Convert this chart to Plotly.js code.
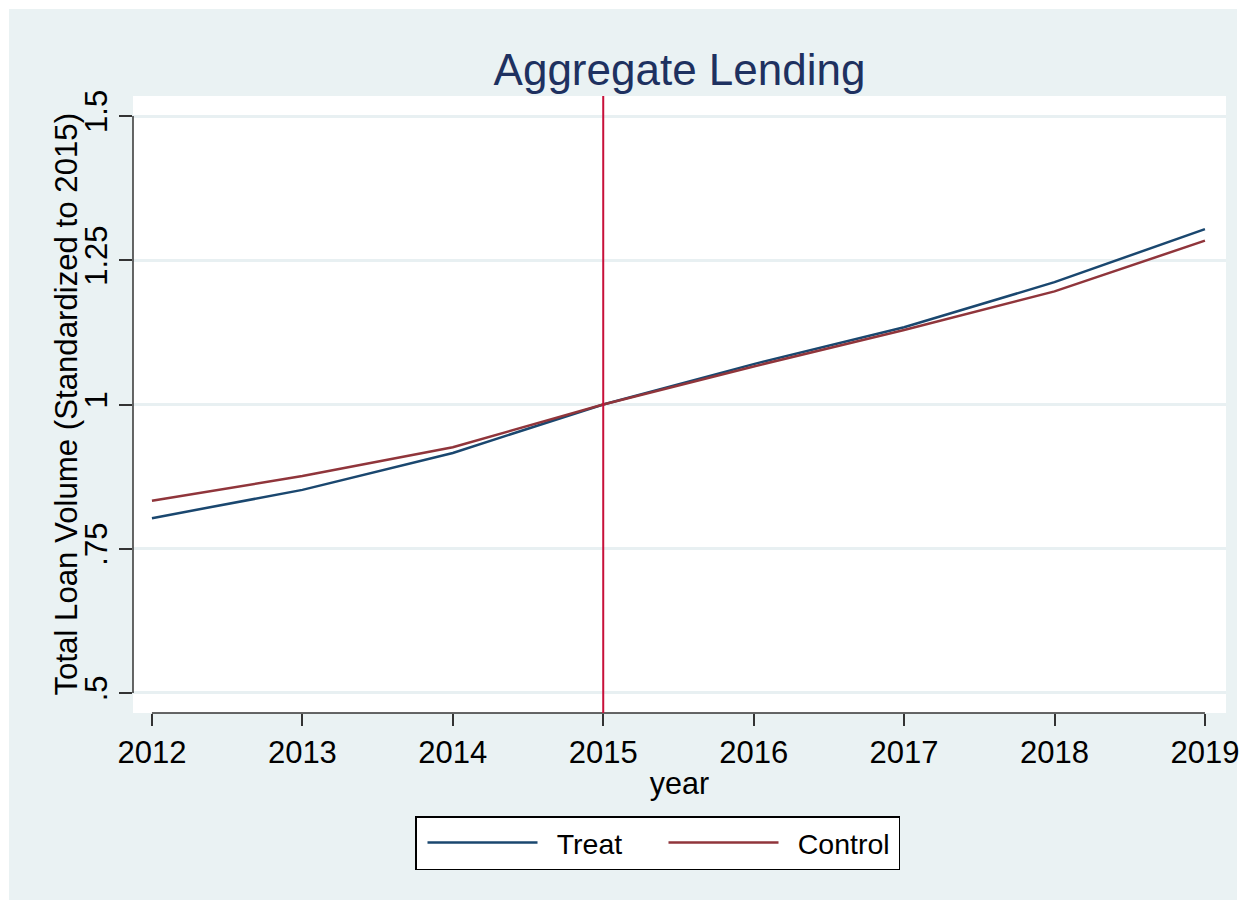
<!DOCTYPE html>
<html><head><meta charset="utf-8">
<script src="https://cdn.plot.ly/plotly-3.0.1.min.js"></script>
<style>html,body{margin:0;padding:0;background:#fff;} #chart{width:1246px;height:909px;}</style>
</head><body><div id="chart"></div>
<script>
const years = [2012, 2013, 2014, 2015, 2016, 2017, 2018, 2019];
const treat = [0.803, 0.852, 0.916, 1.000, 1.070, 1.134, 1.212, 1.304];
const control = [0.833, 0.876, 0.926, 1.000, 1.066, 1.129, 1.196, 1.284];
const yTickVals = [0.5, 0.75, 1, 1.25, 1.5];
const yTickText = ['.5', '.75', '1', '1.25', '1.5'];
const eventYear = 2015;
const yTitle = 'Total Loan Volume (Standardized to 2015)';

const FONT = 'Liberation Sans, Arial, sans-serif';
const BG = '#EAF2F3';

const traces = [
  {x: years, y: treat, name: '\u2002Treat', type: 'scatter', mode: 'lines',
   line: {color: '#1A476F', width: 2.5}},
  {x: years, y: control, name: '\u2002Control', type: 'scatter', mode: 'lines',
   line: {color: '#90353B', width: 2.5}}
];

const W = 1246, H = 909, L = 133, R = 20, T = 96, B = 196;
const pw = W - L - R, ph = H - T - B;
const px = v => (v - L) / pw;
const py = v => (H - B - v) / ph;

const layout = {
  width: W, height: H,
  margin: {l: L, r: R, t: T, b: B},
  paper_bgcolor: '#ffffff',
  plot_bgcolor: 'rgba(0,0,0,0)',
  font: {family: FONT, color: '#000'},
  showlegend: true,
  title: {text: 'Aggregate Lending', font: {family: FONT, size: 44, color: '#1E3160'},
          x: 0.5, xref: 'paper', xanchor: 'center', y: 1 - 70 / H, yref: 'container', yanchor: 'middle'},
  xaxis: {
    range: [2011.874, 2019.14],
    tickvals: years, ticktext: years.map(String),
    ticks: 'outside', ticklen: 12, tickwidth: 1.5, tickcolor: '#333',
    showgrid: false, zeroline: false, showline: false,
    tickfont: {size: 31, family: FONT, color: '#000'},
    title: {text: 'year', font: {size: 30.5, family: FONT, color: '#000'}, standoff: 3}
  },
  yaxis: {
    range: [0.4653, 1.5347],
    tickvals: yTickVals, ticktext: yTickText,
    ticks: 'outside', ticklen: 13, tickwidth: 1.5, tickcolor: '#333',
    tickangle: -90,
    showgrid: true, gridcolor: '#E8F0F2', gridwidth: 2.5,
    zeroline: false, showline: false,
    tickfont: {size: 31, family: FONT, color: '#000'}
  },
  legend: {
    orientation: 'h', x: px(415), xanchor: 'left', y: py(816), yanchor: 'top',
    bgcolor: '#ffffff', bordercolor: '#000', borderwidth: 1.5,
    font: {size: 28.5, family: FONT, color: '#000'},
    itemwidth: 110, entrywidth: 110, entrywidthmode: 'pixels',
    indentation: 6,
    traceorder: 'normal'
  },
  annotations: [
    {text: yTitle, xref: 'paper', yref: 'paper', x: px(66), y: 0.5,
     xanchor: 'center', yanchor: 'middle', textangle: -90, showarrow: false,
     font: {size: 31.2, family: FONT, color: '#000'}}
  ],
  shapes: [
    {type: 'rect', xref: 'paper', yref: 'paper', x0: px(9), x1: px(1237), y0: py(900), y1: py(9),
     fillcolor: BG, line: {width: 0}, layer: 'below'},
    {type: 'rect', xref: 'paper', yref: 'paper', x0: 0, x1: 1, y0: 0, y1: 1,
     fillcolor: '#ffffff', line: {width: 0}, layer: 'below'},
    {type: 'line', xref: 'x', yref: 'paper', x0: years[0], x1: years[years.length - 1], y0: 0, y1: 0,
     line: {color: '#333', width: 1.5}},
    {type: 'line', xref: 'paper', yref: 'y', x0: 0, x1: 0, y0: yTickVals[0], y1: yTickVals[yTickVals.length - 1],
     line: {color: '#333', width: 1.5}},
    {type: 'line', xref: 'x', yref: 'paper', x0: eventYear, x1: eventYear, y0: 0, y1: 1,
     line: {color: '#C8103A', width: 2}}
  ]
};

Plotly.newPlot('chart', traces, layout, {displayModeBar: false, responsive: false});
</script>
</body></html>
